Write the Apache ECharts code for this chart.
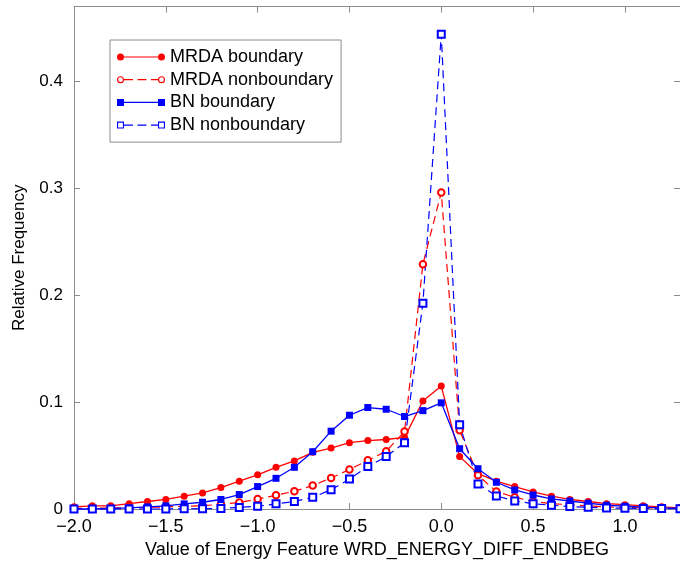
<!DOCTYPE html>
<html>
<head>
<meta charset="utf-8">
<script src="https://cdn.jsdelivr.net/npm/echarts@6/dist/echarts.min.js"></script>
<style>html,body{margin:0;padding:0;background:#fff}#c{width:680px;height:564px}</style>
</head>
<body>
<div id="c"></div>
<script>
var xs = [-2.0,-1.9,-1.8,-1.7,-1.6,-1.5,-1.4,-1.3,-1.2,-1.1,-1.0,-0.9,-0.8,-0.7,-0.6,-0.5,-0.4,-0.3,-0.2,-0.1,0.0,0.1,0.2,0.3,0.4,0.5,0.6,0.7,0.8,0.9,1.0,1.1,1.2,1.3];
var mrdaBoundary = [0.002,0.003,0.003,0.005,0.007,0.009,0.012,0.015,0.020,0.026,0.032,0.039,0.045,0.053,0.057,0.062,0.064,0.065,0.067,0.101,0.115,0.049,0.033,0.026,0.021,0.016,0.012,0.009,0.007,0.005,0.004,0.003,0.002,0.001];
var mrdaNonboundary = [0.0005,0.0007,0.001,0.0012,0.0015,0.002,0.0025,0.003,0.0045,0.006,0.0094,0.0128,0.0166,0.022,0.029,0.037,0.0455,0.054,0.0725,0.229,0.296,0.0736,0.0315,0.0163,0.011,0.007,0.005,0.004,0.003,0.002,0.0015,0.001,0.001,0.0005];
var bnBoundary = [0,0,0.0005,0.001,0.002,0.003,0.0048,0.0063,0.0089,0.0135,0.021,0.0287,0.039,0.0536,0.0728,0.0877,0.0949,0.0933,0.0865,0.092,0.0993,0.0564,0.0377,0.025,0.0178,0.0131,0.0094,0.0075,0.0054,0.0035,0.0026,0.0017,0.001,0.0008];
var bnNonboundary = [0,0,0,0,0,0,0.0002,0.0003,0.0005,0.0015,0.0025,0.0048,0.007,0.011,0.018,0.028,0.0397,0.049,0.062,0.1925,0.444,0.0788,0.0235,0.0122,0.0075,0.005,0.0035,0.0023,0.0017,0.001,0.0008,0.0005,0.0004,0.0003];
var seriesNames = ['MRDA boundary','MRDA nonboundary','BN boundary','BN nonboundary'];
var xTitle = 'Value of Energy Feature WRD_ENERGY_DIFF_ENDBEG';
var yTitle = 'Relative Frequency';

function pairs(v){ return xs.map(function(x,i){ return [x, v[i]]; }); }
var FONT = "'Liberation Sans', Arial, sans-serif";
var AX = '#8c8c8c';
var RED = '#ff0000', BLUE = '#0000ff';

function bar(a,b){ return 'M'+a+',2.9L'+b+',2.9L'+b+',4.1L'+a+',4.1Z'; }
var lineBar = bar(7,41);
var dashBar = bar(7,16) + ' ' + bar(20.5,29.5) + ' ' + bar(34,41);
function circ(cx,r,sweep){ return 'M'+(cx-r)+',3.5A'+r+','+r+' 0 1,'+sweep+' '+(cx+r)+',3.5A'+r+','+r+' 0 1,'+sweep+' '+(cx-r)+',3.5Z'; }
function sq(x0){ var a=x0, b=x0+7; return 'M'+a+',0L'+b+',0L'+b+',7L'+a+',7Z'; }
function sqHole(x0){ var a=x0+1.1, b=x0+5.9; return 'M'+a+',1.1L'+a+',5.9L'+b+',5.9L'+b+',1.1Z'; }
var iconFilledCircle = 'path://' + circ(3.5,3.5,1) + ' ' + circ(44.5,3.5,1) + ' ' + lineBar;
var iconEmptyCircle = 'path://' + circ(3.5,3.5,1) + ' ' + circ(3.5,2.4,0) + ' ' + circ(44.5,3.5,1) + ' ' + circ(44.5,2.4,0) + ' ' + dashBar;
var iconFilledSquare = 'path://' + sq(0) + ' ' + sq(41) + ' ' + lineBar;
var iconEmptySquare = 'path://' + sq(0) + ' ' + sqHole(0) + ' ' + sq(41) + ' ' + sqHole(41) + ' ' + dashBar;

function fmtX(v){
  if (Math.abs(v - Math.round(v*2)/2) > 1e-6) return '';
  var s = Math.abs(v).toFixed(1);
  return (v < -1e-9 ? '\u2212' : '') + s;
}
function fmtY(v){
  if (Math.abs(v) < 1e-9) return '0';
  if (Math.abs(v*10 - Math.round(v*10)) > 1e-6) return '';
  return v.toFixed(1);
}

var chart = echarts.init(document.getElementById('c'), null, {renderer:'canvas'});
var common = {
  type:'value',
  axisLine:{show:true, onZero:false, lineStyle:{color:AX, width:1}},
  axisTick:{show:true, inside:true, length:6, lineStyle:{color:AX, width:1}},
  splitLine:{show:false}
};
chart.setOption({
  animation:false,
  backgroundColor:'#fff',
  textStyle:{fontFamily:FONT},
  grid:{left:74, right:0, top:6.5, bottom:53.5, containLabel:false},
  xAxis:[
    Object.assign({}, common, {
      position:'bottom', min:-2.0, max:1.3, interval:0.5,
      name:xTitle, nameLocation:'middle', nameGap:32,
      nameTextStyle:{color:'#000', fontSize:18, fontFamily:FONT},
      axisLabel:{show:true, color:'#000', fontSize:18, fontFamily:FONT, margin:9, showMaxLabel:false, formatter:fmtX}
    }),
    Object.assign({}, common, {
      position:'top', min:-2.0, max:1.3, interval:0.5,
      axisLabel:{show:false}
    })
  ],
  yAxis:[
    Object.assign({}, common, {
      position:'left', min:0, max:0.47, interval:0.1,
      name:yTitle, nameLocation:'middle', nameGap:46,
      nameTextStyle:{color:'#000', fontSize:17, fontFamily:FONT},
      axisLabel:{show:true, color:'#000', fontSize:17, fontFamily:FONT, margin:11, showMaxLabel:false, formatter:fmtY}
    }),
    Object.assign({}, common, {
      position:'right', min:0, max:0.47, interval:0.1,
      axisLabel:{show:false}
    })
  ],
  legend:{
    show:true, orient:'vertical', left:110, top:40,
    padding:[8,8,8,7], itemGap:4.7, itemWidth:48, itemHeight:7, itemTextGap:11,
    backgroundColor:'#fff', borderColor:AX, borderWidth:1, borderRadius:0,
    itemStyle:{borderWidth:0},
    textStyle:{color:'#000', fontSize:18, fontFamily:FONT, lineHeight:18},
    data:[
      {name:seriesNames[0], icon:iconFilledCircle},
      {name:seriesNames[1], icon:iconEmptyCircle},
      {name:seriesNames[2], icon:iconFilledSquare},
      {name:seriesNames[3], icon:iconEmptySquare}
    ]
  },
  series:[
    {name:seriesNames[0], type:'line', data:pairs(mrdaBoundary), clip:false,
     symbol:'circle', symbolSize:7, showAllSymbol:true,
     itemStyle:{color:RED}, lineStyle:{color:RED, width:1.3, type:'solid'}},
    {name:seriesNames[1], type:'line', data:pairs(mrdaNonboundary), clip:false,
     symbol:'emptyCircle', symbolSize:6.5, showAllSymbol:true,
     itemStyle:{color:RED, borderWidth:1}, lineStyle:{color:RED, width:1.2, type:[8,5]}},
    {name:seriesNames[2], type:'line', data:pairs(bnBoundary), clip:false,
     symbol:'rect', symbolSize:7, showAllSymbol:true,
     itemStyle:{color:BLUE}, lineStyle:{color:BLUE, width:1.3, type:'solid'}},
    {name:seriesNames[3], type:'line', data:pairs(bnNonboundary), clip:false,
     symbol:'emptyRect', symbolSize:7, showAllSymbol:true,
     itemStyle:{color:BLUE, borderWidth:1.1}, lineStyle:{color:BLUE, width:1.2, type:[8,5]}}
  ]
});
</script>
</body>
</html>
